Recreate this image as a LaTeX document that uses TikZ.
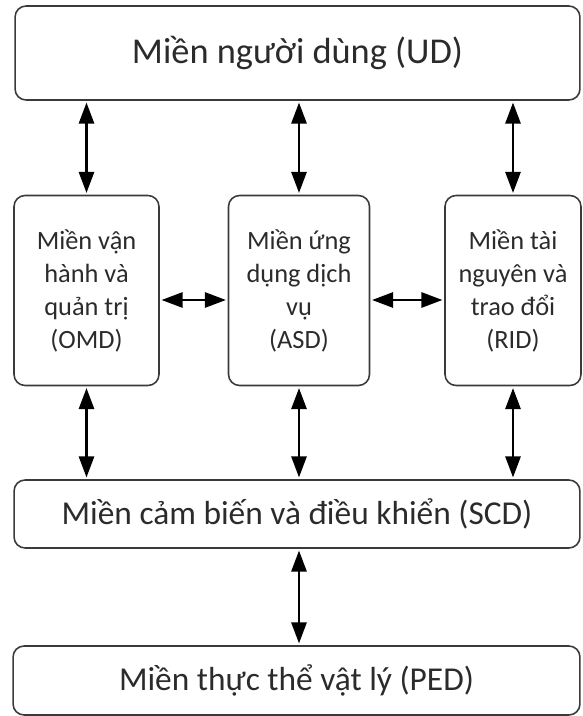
\documentclass[tikz,border=0pt]{standalone}
\usepackage{fontspec}
\setmainfont{Carlito}
\usetikzlibrary{arrows.meta}
\definecolor{vien}{HTML}{3A3A3A}
\definecolor{chu}{HTML}{2B2B2B}
\tikzset{
  mien/.style={draw=vien,line width=0.9pt,rounded corners=0.22cm,inner sep=0pt,align=center,text=chu},
  mienlon/.style={mien,font=\fontsize{20.7}{25}\selectfont},
  mienvua/.style={mien,font=\fontsize{19}{23}\selectfont},
  miennho/.style={mien,font=\fontsize{15}{18.8}\selectfont},
  muiten/.style={{Triangle[length=0.42cm,width=0.3cm]}-{Triangle[length=0.42cm,width=0.3cm]},line width=1.5pt,shorten <=1pt,shorten >=1pt}
}
\begin{document}
\begin{tikzpicture}[x=0.02cm,y=-0.02cm]
	\useasboundingbox (0,0) rectangle (582,716);
	%Các miền
	\node[mienlon,minimum width=11.3cm,minimum height=1.88cm] (ud) at (297.5,53) {Miền người dùng (UD)};
	\node[miennho,minimum width=2.9cm,minimum height=3.8cm] (omd) at (86.5,290.5) {Miền vận\\hành và\\quản trị\\(OMD)};
	\node[miennho,minimum width=2.82cm,minimum height=3.8cm] (asd) at (299,290.5) {Miền ứng\\dụng dịch\\vụ\\(ASD)};
	\node[miennho,minimum width=2.72cm,minimum height=3.8cm] (rid) at (513,290.5) {Miền tài\\nguyên và\\trao đổi\\(RID)};
	\node[mienvua,minimum width=11.32cm,minimum height=1.36cm] (scd) at (297,514) {Miền cảm biến và điều khiển (SCD)};
	\node[mienvua,minimum width=11.34cm,minimum height=1.38cm] (ped) at (296.5,680.5) {Miền thực thể vật lý (PED)};
	%Mũi tên
	\foreach \m in {omd,asd,rid}{
		\draw[muiten] (\m.north |- ud.south) -- (\m.north);
		\draw[muiten] (\m.south) -- (\m.south |- scd.north);
	}
	\draw[muiten] ([yshift=-0.19cm]omd.east) -- ([yshift=-0.19cm]asd.west);
	\draw[muiten] ([yshift=-0.19cm]asd.east) -- ([yshift=-0.19cm]rid.west);
	\draw[muiten] (scd.south -| asd) -- (ped.north -| asd);
\end{tikzpicture}
\end{document}
